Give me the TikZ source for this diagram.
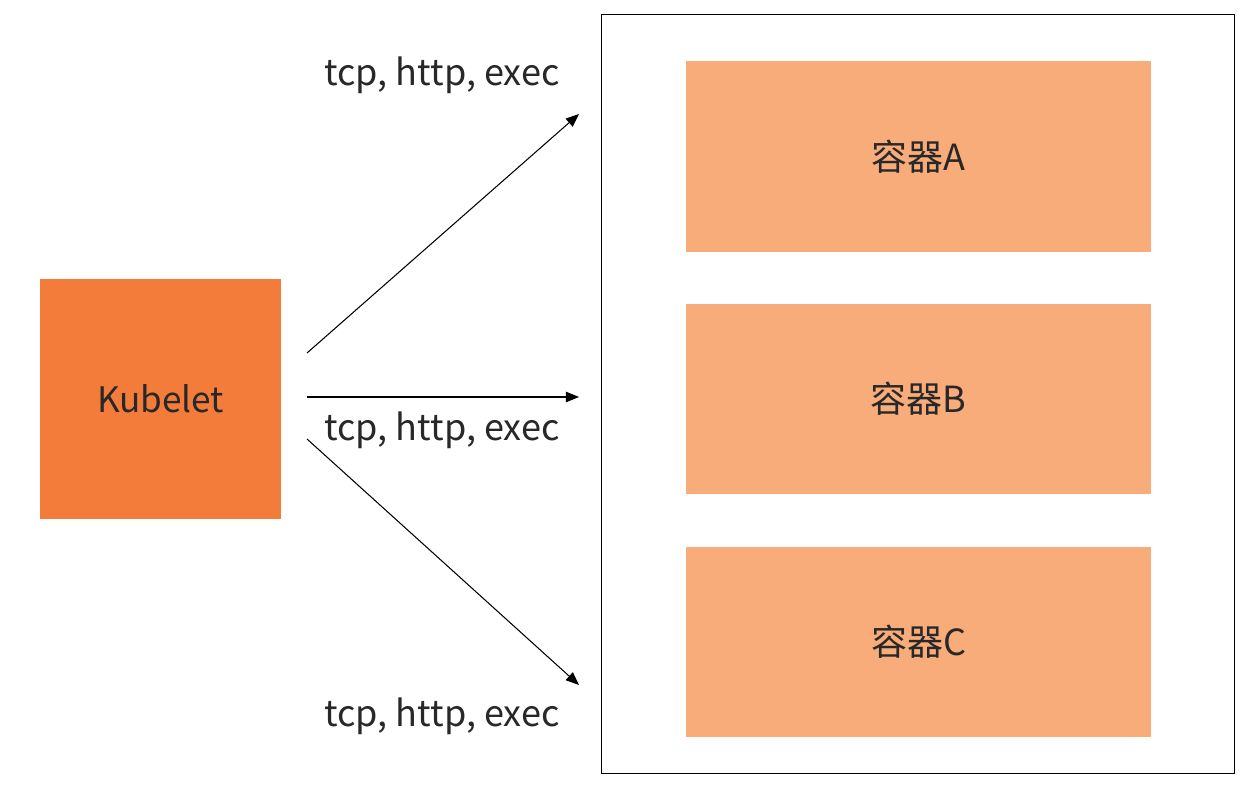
\documentclass[tikz,border=0pt]{standalone}
\usepackage{fontspec}
\setmainfont{Noto Sans CJK SC}
\usepackage{xcolor}
\usetikzlibrary{arrows.meta, positioning}
\definecolor{kubeorange}{RGB}{244, 124, 58}
\definecolor{boxorange}{RGB}{247, 172, 122}
\definecolor{txtgray}{RGB}{40, 40, 40}

\begin{document}
\begin{tikzpicture}[
          x=0.02cm, y=-0.02cm,
          kube/.style={fill=kubeorange, minimum size=4.82cm, font=\fontsize{20}{24}\selectfont,
                      text=txtgray, inner sep=0pt},
          pod/.style={draw, line width=0.6pt, minimum width=12.68cm, minimum height=15.2cm,
                      inner sep=0pt},
          ctr/.style={fill=boxorange, minimum width=9.3cm, minimum height=3.82cm,
                      font=\fontsize{20.5}{24}\selectfont, text=txtgray, inner sep=0pt},
          lbl/.style={font=\fontsize{20.5}{24}\selectfont, text=txtgray, inner sep=0pt},
          arr/.style={-{Triangle[length=7.5pt, width=6pt]}, line width=0.6pt},
        ]
        \useasboundingbox (0,0) rectangle (1246,793);

        \node[kube] (kubelet) at (160.5,399) {Kubelet};
        \node[pod] (outer) at (918,394) {};

        \node[ctr] (ca) at (918.5,156.5) {容器A};
        \node[ctr] (cb) at (918.5,399) {容器B};
        \node[ctr] (cc) at (918.5,642) {容器C};

        \coordinate (s1) at (307,353);
        \coordinate (s2) at (307,397);
        \coordinate (s3) at (307,439);
        \coordinate (e1) at (579,114);
        \coordinate (e2) at (579,397);
        \coordinate (e3) at (579,685);

        \draw[arr] (s1) -- (e1);
        \draw[arr] (s2) -- (e2);
        \draw[arr] (s3) -- (e3);

        \node[lbl] (l1) at (442,75) {tcp, http, exec};
        \node[lbl] (l2) at (442,430) {tcp, http, exec};
        \node[lbl] (l3) at (442,716) {tcp, http, exec};
      \end{tikzpicture}
\end{document}
